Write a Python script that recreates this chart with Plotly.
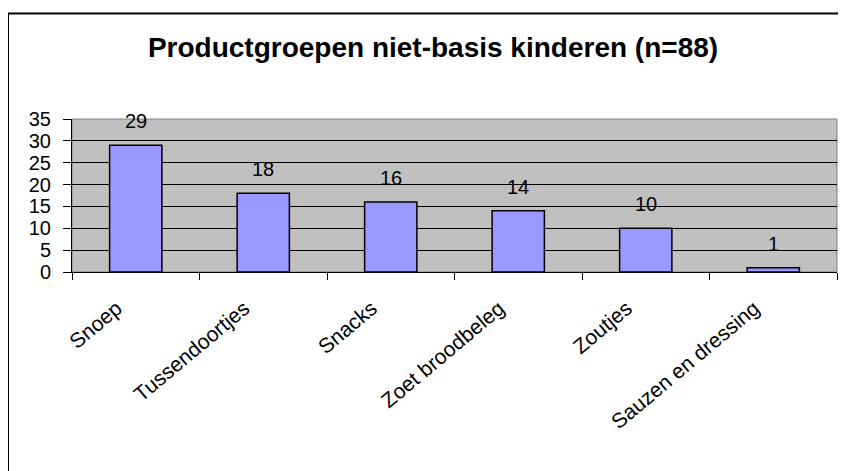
import plotly.graph_objects as go

# data
categories = ['Snoep', 'Tussendoortjes', 'Snacks', 'Zoet broodbeleg', 'Zoutjes', 'Sauzen en dressing']
counts = [29, 18, 16, 14, 10, 1]
y_ticks = [0, 5, 10, 15, 20, 25, 30, 35]

# the page body has an 8px margin, so the figure is 8px smaller and everything is shifted
OFF = 8
W, H = 846 - OFF, 471 - OFF
L, R, T, B = 72 - OFF, 9, 119 - OFF, 199
pw, ph = W - L - R, H - T - B


def px_x(x):
    return (x - OFF - L) / pw


def px_y(y):
    return 1 + (T - (y - OFF)) / ph


fig = go.Figure()
fig.add_trace(go.Bar(
    x=categories, y=counts,
    marker=dict(color='#9999FF', line=dict(color='black', width=1.5)),
    hoverinfo='skip',
))

for c, v in zip(categories, counts):
    fig.add_annotation(x=c, y=v, text=str(v), showarrow=False, yshift=24,
                       font=dict(family='Liberation Sans, Arial', size=20, color='black'))

# gray frame round the plot area, then the outer chart border (only left/top visible)
fig.add_shape(type='rect', xref='paper', yref='paper', x0=0, x1=1, y0=0, y1=1,
              line=dict(color='#808080', width=1), layer='below')
fig.add_shape(type='rect', xref='paper', yref='paper',
              x0=px_x(8), x1=px_x(900), y0=px_y(520), y1=px_y(13.5),
              line=dict(color='black', width=2))

fig.update_layout(
    width=W, height=H,
    margin=dict(l=L, r=R, t=T, b=B, autoexpand=False),
    paper_bgcolor='white', plot_bgcolor='#C0C0C0',
    bargap=0.59, showlegend=False,
    font=dict(family='Liberation Sans, Arial', color='black'),
    title=dict(text='<b>Productgroepen niet-basis kinderen (n=88)</b>',
               x=(433 - OFF) / W, xanchor='center', xref='container',
               y=1 - (47 - OFF) / H, yanchor='middle', yref='container',
               font=dict(size=28, color='black')),
)
fig.update_xaxes(
    tickangle=-40, tickson='boundaries', ticks='outside', ticklen=7, tickcolor='black',
    showline=True, linecolor='black', linewidth=1, showgrid=False,
    tickfont=dict(size=21, color='black'),
    ticklabelstandoff=15, ticklabelshift=-19, automargin=False,
)
fig.update_yaxes(
    range=[0, 35], tickvals=y_ticks, ticks='outside', ticklen=8, tickcolor='black',
    showline=True, linecolor='black', linewidth=1,
    showgrid=True, gridcolor='black', gridwidth=1, zeroline=False,
    tickfont=dict(size=20, color='black'), ticklabelstandoff=8, automargin=False,
)

fig.write_html('out.html')
